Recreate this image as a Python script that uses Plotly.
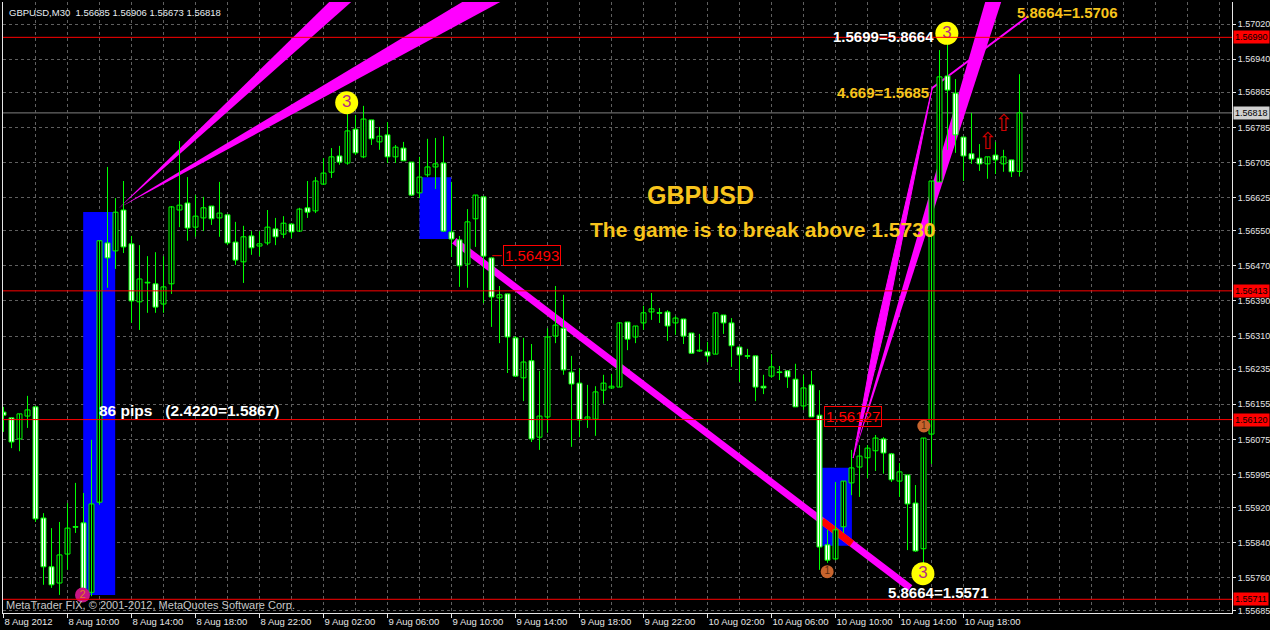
import plotly.graph_objects as go

# ---------------- data (GBPUSD M30) ----------------
opens = [1.56137, 1.56124, 1.56076, 1.56128, 1.56149, 1.55896, 1.55785, 1.55748, 1.55814, 1.55876,
         1.55885, 1.55727, 1.55932, 1.56522, 1.56504, 1.56597, 1.56520, 1.56388, 1.56431, 1.56429,
         1.56383, 1.56429, 1.56597, 1.56613, 1.56558, 1.56579, 1.56606, 1.56579, 1.56586, 1.56524,
         1.56479, 1.56538, 1.56515, 1.56522, 1.56554, 1.56542, 1.56565, 1.56549, 1.56602, 1.56595,
         1.56656, 1.56683, 1.56720, 1.56704, 1.56781, 1.56718, 1.56802, 1.56752, 1.56768, 1.56718,
         1.56738, 1.56706, 1.56636, 1.56677, 1.56695, 1.56704, 1.56547, 1.56529, 1.56474, 1.56577,
         1.56627, 1.56488, 1.56397, 1.56406, 1.56306, 1.56215, 1.56254, 1.56080, 1.56126, 1.56310,
         1.56328, 1.56228, 1.56203, 1.56121, 1.56121, 1.56187, 1.56192, 1.56194, 1.56342, 1.56308,
         1.56340, 1.56365, 1.56363, 1.56365, 1.56340, 1.56349, 1.56317, 1.56276, 1.56274, 1.56269,
         1.56358, 1.56340, 1.56285, 1.56265, 1.56265, 1.56196, 1.56219, 1.56228, 1.56231, 1.56212,
         1.56151, 1.56199, 1.56130, 1.55835, 1.55803, 1.55876, 1.55976, 1.56012, 1.56033, 1.56049,
         1.56076, 1.56042, 1.55980, 1.55994, 1.55930, 1.55826, 1.56087, 1.56661, 1.56902, 1.56863,
         1.56763, 1.56725, 1.56715, 1.56702, 1.56722, 1.56702, 1.56711, 1.56685]
highs = [1.56149, 1.56124, 1.56133, 1.56174, 1.56149, 1.55907, 1.55873, 1.55887, 1.55930, 1.55976,
         1.55953, 1.56074, 1.56527, 1.56695, 1.56624, 1.56663, 1.56538, 1.56517, 1.56492, 1.56501,
         1.56492, 1.56606, 1.56754, 1.56672, 1.56631, 1.56627, 1.56606, 1.56661, 1.56586, 1.56570,
         1.56561, 1.56549, 1.56549, 1.56597, 1.56579, 1.56583, 1.56567, 1.56602, 1.56663, 1.56672,
         1.56715, 1.56738, 1.56743, 1.56818, 1.56813, 1.56834, 1.56802, 1.56786, 1.56797, 1.56745,
         1.56752, 1.56706, 1.56718, 1.56759, 1.56761, 1.56765, 1.56661, 1.56538, 1.56599, 1.56631,
         1.56627, 1.56488, 1.56424, 1.56406, 1.56310, 1.56306, 1.56292, 1.56231, 1.56328, 1.56424,
         1.56404, 1.56265, 1.56237, 1.56199, 1.56196, 1.56222, 1.56224, 1.56342, 1.56342, 1.56333,
         1.56379, 1.56408, 1.56374, 1.56369, 1.56356, 1.56349, 1.56317, 1.56315, 1.56297, 1.56363,
         1.56358, 1.56351, 1.56285, 1.56281, 1.56265, 1.56222, 1.56269, 1.56242, 1.56231, 1.56247,
         1.56222, 1.56231, 1.56187, 1.55869, 1.55978, 1.55980, 1.56051, 1.56062, 1.56062, 1.56085,
         1.56080, 1.56044, 1.56021, 1.55994, 1.55971, 1.56078, 1.56663, 1.56961, 1.56990, 1.56895,
         1.56763, 1.56818, 1.56747, 1.56718, 1.56752, 1.56734, 1.56711, 1.56906]
lows = [1.56092, 1.56055, 1.56048, 1.56101, 1.55887, 1.55744, 1.55737, 1.55721, 1.55778, 1.55862,
        1.55727, 1.55718, 1.55926, 1.56420, 1.56463, 1.56499, 1.56340, 1.56324, 1.56363, 1.56363,
        1.56363, 1.56406, 1.56558, 1.56527, 1.56536, 1.56549, 1.56563, 1.56536, 1.56517, 1.56472,
        1.56431, 1.56495, 1.56492, 1.56517, 1.56517, 1.56533, 1.56533, 1.56547, 1.56579, 1.56590,
        1.56654, 1.56670, 1.56700, 1.56700, 1.56722, 1.56715, 1.56745, 1.56734, 1.56704, 1.56704,
        1.56709, 1.56629, 1.56624, 1.56672, 1.56645, 1.56547, 1.56490, 1.56422, 1.56420, 1.56513,
        1.56385, 1.56331, 1.56294, 1.56226, 1.56217, 1.56162, 1.56069, 1.56051, 1.56090, 1.56294,
        1.56222, 1.56058, 1.56080, 1.56101, 1.56083, 1.56156, 1.56190, 1.56194, 1.56278, 1.56294,
        1.56324, 1.56347, 1.56340, 1.56299, 1.56313, 1.56292, 1.56271, 1.56274, 1.56251, 1.56269,
        1.56315, 1.56240, 1.56206, 1.56258, 1.56162, 1.56178, 1.56215, 1.56210, 1.56192, 1.56149,
        1.56142, 1.56126, 1.55778, 1.55794, 1.55800, 1.55862, 1.55948, 1.55944, 1.55987, 1.56003,
        1.55997, 1.55978, 1.55944, 1.55823, 1.55819, 1.55791, 1.56019, 1.56661, 1.56734, 1.56727,
        1.56663, 1.56702, 1.56686, 1.56668, 1.56679, 1.56684, 1.56672, 1.56673]
closes = [1.56130, 1.56069, 1.56133, 1.56142, 1.55894, 1.55785, 1.55744, 1.55812, 1.55873, 1.55875,
          1.55732, 1.55928, 1.56527, 1.56488, 1.56592, 1.56513, 1.56390, 1.56440, 1.56432, 1.56376,
          1.56422, 1.56604, 1.56608, 1.56556, 1.56583, 1.56602, 1.56577, 1.56590, 1.56522, 1.56483,
          1.56536, 1.56511, 1.56520, 1.56558, 1.56536, 1.56567, 1.56547, 1.56599, 1.56592, 1.56663,
          1.56681, 1.56718, 1.56706, 1.56777, 1.56727, 1.56804, 1.56759, 1.56765, 1.56718, 1.56740,
          1.56709, 1.56631, 1.56672, 1.56695, 1.56702, 1.56549, 1.56531, 1.56470, 1.56570, 1.56631,
          1.56492, 1.56399, 1.56404, 1.56308, 1.56219, 1.56251, 1.56076, 1.56128, 1.56308, 1.56335,
          1.56233, 1.56201, 1.56119, 1.56126, 1.56183, 1.56203, 1.56196, 1.56340, 1.56303, 1.56333,
          1.56363, 1.56372, 1.56362, 1.56333, 1.56351, 1.56310, 1.56271, 1.56278, 1.56265, 1.56363,
          1.56340, 1.56288, 1.56267, 1.56264, 1.56194, 1.56192, 1.56240, 1.56227, 1.56217, 1.56149,
          1.56192, 1.56126, 1.55830, 1.55800, 1.55869, 1.55980, 1.56010, 1.56037, 1.56055, 1.56078,
          1.56044, 1.55983, 1.56001, 1.55928, 1.55821, 1.56078, 1.56663, 1.56900, 1.56870, 1.56768,
          1.56720, 1.56713, 1.56702, 1.56718, 1.56711, 1.56718, 1.56684, 1.56818]

time_tick_bars = [0, 8, 16, 24, 32, 40, 48, 56, 64, 72, 80, 88, 96, 104, 112, 120]
time_tick_labels = ["8 Aug 2012", "8 Aug 10:00", "8 Aug 14:00", "8 Aug 18:00", "8 Aug 22:00",
                    "9 Aug 02:00", "9 Aug 06:00", "9 Aug 10:00", "9 Aug 14:00", "9 Aug 18:00",
                    "9 Aug 22:00", "10 Aug 02:00", "10 Aug 06:00", "10 Aug 10:00", "10 Aug 14:00",
                    "10 Aug 18:00"]
price_ticks = [1.57020, 1.56940, 1.56865, 1.56785, 1.56705, 1.56625, 1.56550, 1.56470, 1.56390,
               1.56310, 1.56235, 1.56155, 1.56075, 1.55995, 1.55920, 1.55840, 1.55760, 1.55685]
price_tick_labels = ["1.57020", "1.56940", "1.56865", "1.56785", "1.56705", "1.56625", "1.56550",
                     "1.56470", "1.56390", "1.56310", "1.56235", "1.56155", "1.56075", "1.55995",
                     "1.55920", "1.55840", "1.55760", "1.55685"]
red_levels = [1.56990, 1.56413, 1.56120, 1.55711]
bid_level = 1.56818
header_text = "GBPUSD,M30  1.56685 1.56906 1.56673 1.56818"

# drawing objects (bar index, price)
rect_bars = [(9.96, 13.96), (52.0, 55.96), (102.3, 106.05)]
rect_prices = [(1.557208, 1.565925), (1.565310, 1.566715), (1.558330, 1.560105)]
fan_ul_apex = (14.375, 1.566009)
fan_ul_tops = [(40.71, 43.46), (57.34, 62.09)]
fan_r_apex = (106.21, 1.560326)
fan_r_top = (122.71, 124.71)
fan_r_band = [(109.09, 1.563239), (116.09, 1.568747), (110.09, 1.563239)]
thin_line = [(116.09, 1.568747), (127.96, 1.570363)]
down_line = [(56.34, 1.565272), (113.34, 1.557367)]

x_range = [-0.0625, 153.5625]
y_range = [1.556798, 1.570704]

GREEN = "#00FF00"
MAGENTA = "#FF00FF"
GOLD = "#F8C41C"
GRID = "#5f5f5f"
AXIS = "#E6E6E6"

n = len(opens)
bars = list(range(n))

fig = go.Figure()

# wicks
wx, wy = [], []
for i in bars:
    wx += [i, i, None]
    wy += [lows[i], highs[i], None]
fig.add_trace(go.Scatter(x=wx, y=wy, mode="lines", line=dict(color=GREEN, width=1),
                         hoverinfo="skip", showlegend=False))

# bodies
base = [min(o, c) for o, c in zip(opens, closes)]
height = [max(abs(c - o), 0.000015) for o, c in zip(opens, closes)]
fill = ["#000000" if c > o else "#FFFFFF" for o, c in zip(opens, closes)]
fig.add_trace(go.Bar(x=bars, y=height, base=base, width=0.62,
                     marker=dict(color=fill, line=dict(color=GREEN, width=1)),
                     hoverinfo="skip", showlegend=False))

# marker circles
fig.add_trace(go.Scatter(x=[42.9, 117.92, 114.93], y=[1.568413, 1.569992, 1.557693],
                         mode="markers+text", text=["3", "3", "3"], textposition="middle center",
                         marker=dict(size=23, color="#FFFF00"),
                         textfont=dict(size=17, color="#B4307F", family="Liberation Sans"),
                         hoverinfo="skip", showlegend=False))
fig.add_trace(go.Scatter(x=[102.96, 115.04], y=[1.557738, 1.561054],
                         mode="markers+text", text=["1", "1"], textposition="middle center",
                         marker=dict(size=13, color="#C8642D"),
                         textfont=dict(size=10, color="#5a2a10", family="Liberation Sans"),
                         hoverinfo="skip", showlegend=False))
fig.add_trace(go.Scatter(x=[9.875], y=[1.557208], mode="markers+text", text=["2"],
                         textposition="middle center", marker=dict(size=15, color="#C71585"),
                         textfont=dict(size=11, color="#E08020", family="Liberation Sans"),
                         hoverinfo="skip", showlegend=False))

shapes = []
# blue rectangles (background)
for (x0, x1), (p0, p1) in zip(rect_bars, rect_prices):
    shapes.append(dict(type="rect", xref="x", yref="y", x0=x0, x1=x1, y0=p0, y1=p1,
                       fillcolor="#0000FF", line=dict(width=0), layer="between"))
# upper-left fan wedges
top = y_range[1]
for a, b in fan_ul_tops:
    shapes.append(dict(type="path", xref="x", yref="y",
                       path=f"M {fan_ul_apex[0]},{fan_ul_apex[1]} L {a},{top} L {b},{top} Z",
                       fillcolor=MAGENTA, line=dict(width=0), layer="between"))
# right fan
shapes.append(dict(type="path", xref="x", yref="y",
                   path=f"M {fan_r_apex[0]},{fan_r_apex[1]} L {fan_r_top[0]},{top} L {fan_r_top[1]},{top} Z",
                   fillcolor=MAGENTA, line=dict(width=0), layer="between"))
pts = [fan_r_apex] + fan_r_band
shapes.append(dict(type="path", xref="x", yref="y",
                   path="M " + " L ".join(f"{x},{y}" for x, y in pts) + " Z",
                   fillcolor=MAGENTA, line=dict(color=MAGENTA, width=1), layer="between"))
shapes.append(dict(type="line", xref="x", yref="y", x0=thin_line[0][0], y0=thin_line[0][1],
                   x1=thin_line[1][0], y1=thin_line[1][1], line=dict(color=MAGENTA, width=2),
                   layer="between"))
# descending line + XOR-like red part inside the third rectangle
(dx0, dy0), (dx1, dy1) = down_line
shapes.append(dict(type="line", xref="x", yref="y", x0=dx0, y0=dy0, x1=dx1, y1=dy1,
                   line=dict(color=MAGENTA, width=7), layer="between"))


def on_line(xv):
    return dy0 + (dy1 - dy0) * (xv - dx0) / (dx1 - dx0)


rx0, rx1 = rect_bars[2]
shapes.append(dict(type="line", xref="x", yref="y", x0=rx0, y0=on_line(rx0), x1=rx1, y1=on_line(rx1),
                   line=dict(color="#FF0000", width=7), layer="between"))
# bid line
shapes.append(dict(type="line", xref="paper", yref="y", x0=0, x1=1, y0=bid_level, y1=bid_level,
                   line=dict(color="#808080", width=1), layer="between"))
# red horizontal lines
for lv in red_levels:
    shapes.append(dict(type="line", xref="paper", yref="y", x0=0, x1=1, y0=lv, y1=lv,
                       line=dict(color="#FF0000", width=1), layer="above"))
# short tick of price label
shapes.append(dict(type="line", xref="x", yref="y", x0=61.1, x1=62.3, y0=1.56493, y1=1.56493,
                   line=dict(color="#FF0000", width=1), layer="above"))

annotations = []
# right axis price boxes
for lv in red_levels:
    annotations.append(dict(xref="paper", yref="y", x=1, y=lv, xanchor="left", xshift=1,
                            text=f"{lv:.5f}", showarrow=False, bgcolor="#FF0000", borderpad=1,
                            font=dict(size=9, color="#000000")))
annotations.append(dict(xref="paper", yref="y", x=1, y=bid_level, xanchor="left", xshift=1,
                        text=f"{bid_level:.5f}", showarrow=False, bgcolor="#D0D0D0", borderpad=1,
                        font=dict(size=9, color="#000000")))
# header & footer
annotations.append(dict(xref="paper", yref="paper", x=0, y=1, xanchor="left", yanchor="top",
                        xshift=4, yshift=-3, text=header_text, showarrow=False,
                        font=dict(size=9.5, color="#E6ECF2")))
annotations.append(dict(xref="paper", yref="paper", x=0, y=0.0131, xanchor="left", yanchor="middle",
                        xshift=1, text="MetaTrader FIX, © 2001-2012, MetaQuotes Software Corp.",
                        showarrow=False, font=dict(size=11, color="#C8C8C8")))
# chart texts
annotations += [
    dict(x=87.1, y=1.566312, text="<b>GBPUSD</b>", font=dict(size=25, color=GOLD)),
    dict(x=94.96, y=1.565515, text="<b>The game is to break above 1.5730</b>", font=dict(size=21, color=GOLD)),
    dict(x=11.7, y=1.561396, xanchor="left", text="<b>86 pips   (2.4220=1.5867)</b>",
         font=dict(size=15.5, color="#FFFFFF")),
    dict(x=109.94, y=1.569908, text="<b>1.5699=5.8664</b>", font=dict(size=15, color="#FFFFFF")),
    dict(x=109.9, y=1.568640, text="<b>4.669=1.5685</b>", font=dict(size=15, color=GOLD)),
    dict(x=132.96, y=1.57047, text="<b>5.8664=1.5706</b>", font=dict(size=15, color=GOLD)),
    dict(x=116.84, y=1.557276, text="<b>5.8664=1.5571</b>", font=dict(size=15, color="#FFFFFF")),
    dict(x=66.1, y=1.56493, text="1.56493", font=dict(size=15, color="#FF0000"),
         bgcolor="#000000", bordercolor="#FF0000", borderwidth=1, borderpad=1),
    dict(x=106.15, y=1.56127, text="1.56127", font=dict(size=15, color="#FF0000"),
         bordercolor="#FF0000", borderwidth=1, borderpad=1),
    dict(x=125.0, y=1.567950, text="⇧", font=dict(size=23, color="#D00000", family="DejaVu Sans")),
    dict(x=123.03, y=1.567541, text="⇧", font=dict(size=23, color="#D00000", family="DejaVu Sans")),
]
for a in annotations:
    a.setdefault("xref", "x")
    a.setdefault("yref", "y")
    a.setdefault("showarrow", False)

fig.update_layout(
    width=1270, height=630,
    margin=dict(l=3, r=38, t=2, b=17, autoexpand=False),
    paper_bgcolor="#000000", plot_bgcolor="#000000",
    font=dict(family="Liberation Sans, Arial, sans-serif", color=AXIS, size=9.5),
    showlegend=False, barmode="overlay",
    shapes=shapes, annotations=annotations,
    xaxis=dict(range=x_range, tickmode="array", tickvals=time_tick_bars, ticktext=time_tick_labels,
               tickangle=0, automargin=False,
               ticklabelposition="outside right", ticks="outside", ticklen=4, tickcolor=AXIS,
               showgrid=True, gridcolor=GRID, griddash="3px,3px", gridwidth=1,
               minor=dict(tickmode="array", tickvals=list(range(0, 154, 4)), showgrid=True,
                          gridcolor=GRID, griddash="3px,3px", ticks=""),
               showline=True, linecolor=AXIS, linewidth=1, zeroline=False,
               tickfont=dict(size=9.5, color=AXIS), fixedrange=True),
    yaxis=dict(range=y_range, side="right", tickmode="array", tickvals=price_ticks,
               ticktext=price_tick_labels, ticks="outside", ticklen=3, tickcolor=AXIS,
               automargin=False,
               showgrid=True, gridcolor=GRID, griddash="3px,3px", gridwidth=1,
               showline=True, linecolor=AXIS, linewidth=1, mirror=True, zeroline=False,
               tickfont=dict(size=9, color=AXIS), fixedrange=True),
)

fig.write_html(
    "out.html",
    config={"displayModeBar": False},
    post_script="document.body.style.margin='0';document.body.style.padding='0';"
                "document.body.style.background='#000';",
)
